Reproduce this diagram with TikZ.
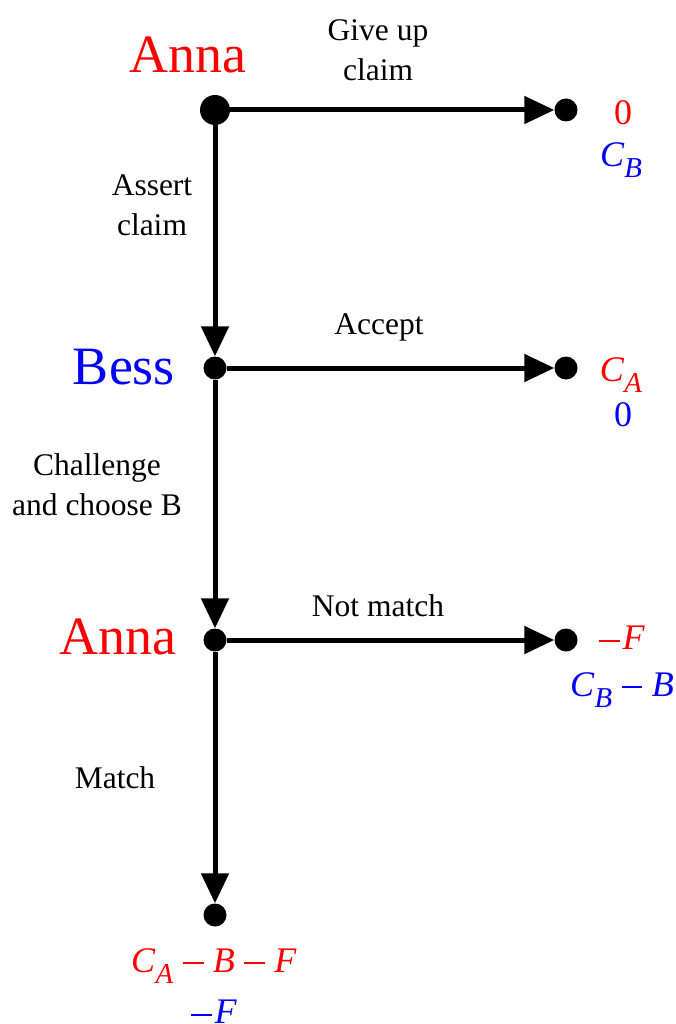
\documentclass[tikz,border=0pt]{standalone}
\usepackage{fontspec}
\usepackage{graphicx}
\setmainfont{Liberation Serif}
\usetikzlibrary{arrows.meta}
\definecolor{pred}{RGB}{255,0,0}
\definecolor{pblue}{RGB}{0,0,255}
\newcommand{\myvar}[2]{\textit{#1}\raisebox{-0.3em}{\scalebox{0.8}{\textit{#2}}}}
\newcommand{\myneg}{\rule[0.23em]{0.58em}{0.05em}\hspace{0.08em}}
\newcommand{\mymin}{\hspace{0.26em}\rule[0.23em]{0.58em}{0.05em}\hspace{0.26em}}
\begin{document}
\begin{tikzpicture}[x=1pt,y=-1pt,
  bigdot/.style={circle,fill=black,inner sep=0pt,minimum size=30pt},
  dot/.style={circle,fill=black,inner sep=0pt,minimum size=23pt},
  edge/.style={line width=5pt,-{Triangle[length=30pt,width=27pt]}},
  player/.style={font=\fontsize{54}{60}\selectfont},
  lab/.style={font=\fontsize{31.5}{40}\selectfont,align=center},
  pay/.style={font=\fontsize{36}{40}\selectfont}]
\useasboundingbox (0,0) rectangle (676,1024);
% nodes
\node[bigdot] (a1) at (215,110) {};
\node[dot] (t1) at (566,110) {};
\node[dot] (b) at (215,368) {};
\node[dot] (t2) at (566,368) {};
\node[dot] (a2) at (215,640) {};
\node[dot] (t3) at (566,640) {};
\node[dot] (t4) at (215,915) {};
% player names
\node[player,text=pred] (n1) at (188,55) {Anna};
\node[player,text=pblue] (n2) at (124,367) {Bess};
\node[player,text=pred] (n3) at (118,637) {Anna};
% connectors
\draw[edge] (a1) -- (t1);
\draw[edge] (a1) -- (b);
\draw[edge] (b) -- (t2);
\draw[edge] (b) -- (a2);
\draw[edge] (a2) -- (t3);
\draw[edge] (a2) -- (t4);
% edge labels
\node[lab] (l1) at (378,50) {Give up\\claim};
\node[lab] (l2) at (152,205) {Assert\\claim};
\node[lab] (l3) at (379,327) {Accept};
\node[lab] (l4) at (97,485) {Challenge\\and choose B};
\node[lab] (l5) at (378,606) {Not match};
\node[lab] (l6) at (115,778) {Match};
% payoffs
\node[pay,text=pred] (p1a) at (623,113) {0};
\node[pay,text=pblue] (p1b) at (621,160) {\myvar{C}{B}};
\node[pay,text=pred] (p2a) at (621,375) {\myvar{C}{A}};
\node[pay,text=pblue] (p2b) at (623,415) {0};
\node[pay,text=pred] (p3a) at (622,638) {\myneg\textit{F}};
\node[pay,text=pblue] (p3b) at (622,690) {\myvar{C}{B}\mymin\textit{B}};
\node[pay,text=pred] (p4a) at (214,966) {\myvar{C}{A}\mymin\textit{B}\mymin\textit{F}};
\node[pay,text=pblue] (p4b) at (214,1012) {\myneg\textit{F}};
\end{tikzpicture}
\end{document}
